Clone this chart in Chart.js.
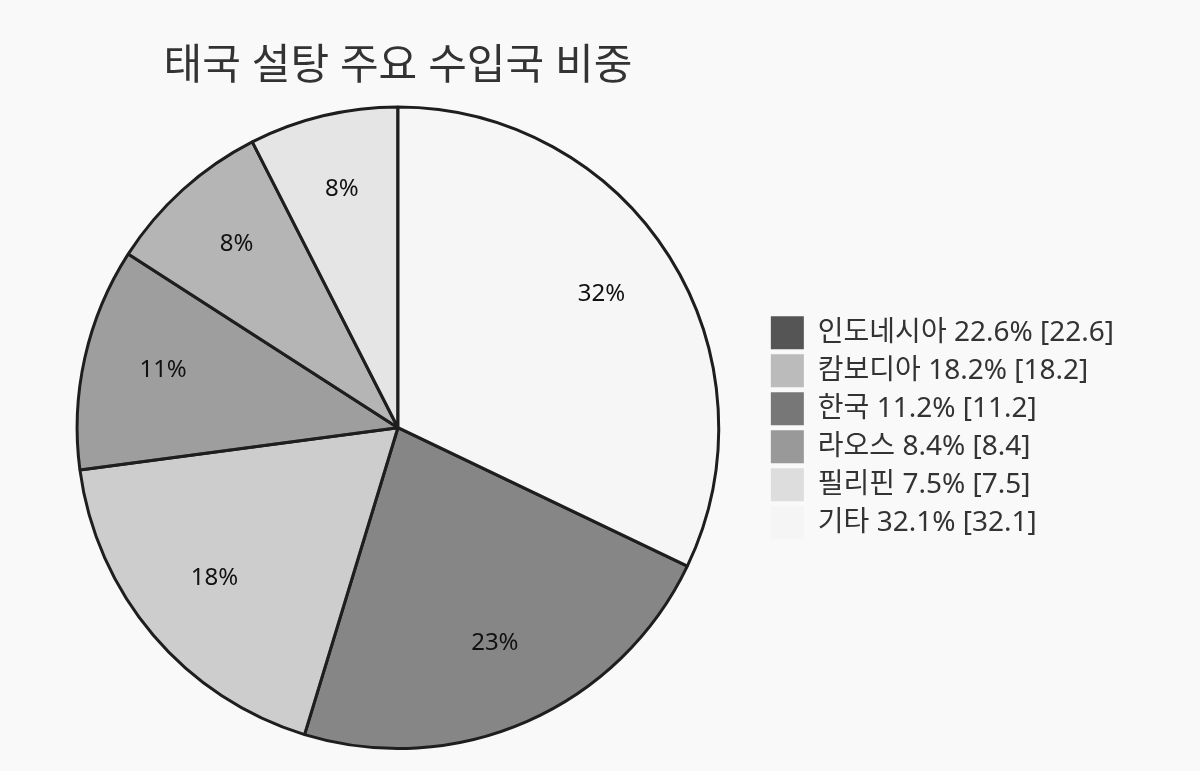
<!DOCTYPE html>
<html lang="ko">
<head>
<meta charset="utf-8">
<title>태국 설탕 주요 수입국 비중</title>
<script src="https://cdn.jsdelivr.net/npm/chart.js@4/dist/chart.umd.min.js"></script>
<style>
    html, body { margin: 0; padding: 0; background: #f9f9f9; }
    #wrap { width: 1200px; height: 771px; }
</style>
</head>
<body>
<div id="wrap"><canvas id="sugarChart" width="1200" height="771"></canvas></div>
<script>
const labels = ['인도네시아', '캄보디아', '한국', '라오스', '필리핀', '기타'];
const values = [22.6, 18.2, 11.2, 8.4, 7.5, 32.1];
const colors = ['#555555', '#bbbbbb', '#777777', '#999999', '#dddddd', '#f5f5f5'];

const FONT = "'Noto Sans', 'Noto Sans CJK KR', sans-serif";
const total = values.reduce((a, b) => a + b, 0);

// slices are drawn with some transparency, legend boxes stay solid
function fade(hex, a) {
    const n = parseInt(hex.slice(1), 16);
    return 'rgba(' + (n >> 16) + ',' + ((n >> 8) & 255) + ',' + (n & 255) + ',' + a + ')';
}

// percent labels inside the slices
const sliceLabels = {
    id: 'sliceLabels',
    afterDatasetsDraw(chart) {
        const ctx = chart.ctx;
        const meta = chart.getDatasetMeta(0);
        ctx.save();
        ctx.font = "24px " + FONT;
        ctx.fillStyle = '#111';
        ctx.textAlign = 'center';
        ctx.textBaseline = 'middle';
        meta.data.forEach(function(arc, i) {
            const p = arc.getProps(['x', 'y', 'startAngle', 'endAngle', 'outerRadius'], true);
            const mid = (p.startAngle + p.endAngle) / 2;
            const r = p.outerRadius * 0.75;
            const pct = Math.round(values[i] / total * 100);
            // Noto Sans sits a bit low on the middle baseline
            ctx.fillText(pct + '%', p.x + Math.cos(mid) * r, p.y + Math.sin(mid) * r - 5);
        });
        ctx.restore();
    }
};

new Chart(document.getElementById('sugarChart'), {
    type: 'pie',
    data: {
        labels: labels,
        datasets: [{
            data: values,
            backgroundColor: colors.map(c => fade(c, 0.7)),
            borderColor: '#1e1e1e',
            borderWidth: 3
        }]
    },
    options: {
        responsive: false,
        animation: false,
        rotation: values[5] / total * 360,
        layout: { padding: { left: 30, right: 76, top: 0, bottom: 21 } },
        plugins: {
            title: {
                display: true,
                text: '태국 설탕 주요 수입국 비중',
                fullSize: false,
                color: '#333',
                font: { family: FONT, size: 42, weight: 'normal' },
                padding: { top: 42, bottom: 13 }
            },
            legend: {
                position: 'right',
                align: 'center',
                fullSize: false,
                labels: {
                    boxWidth: 33,
                    boxHeight: 33,
                    padding: 5,
                    color: '#333',
                    font: { family: FONT, size: 28 },
                    generateLabels: function(chart) {
                        return labels.map(function(l, i) {
                            const v = values[i];
                            return {
                                text: l + ' ' + (v / total * 100).toFixed(1) + '% [' + v + ']',
                                fillStyle: colors[i],
                                strokeStyle: colors[i],
                                lineWidth: 0,
                                fontColor: '#333',
                                index: i
                            };
                        });
                    }
                }
            },
            tooltip: { enabled: false }
        }
    },
    plugins: [sliceLabels]
});
</script>
</body>
</html>
